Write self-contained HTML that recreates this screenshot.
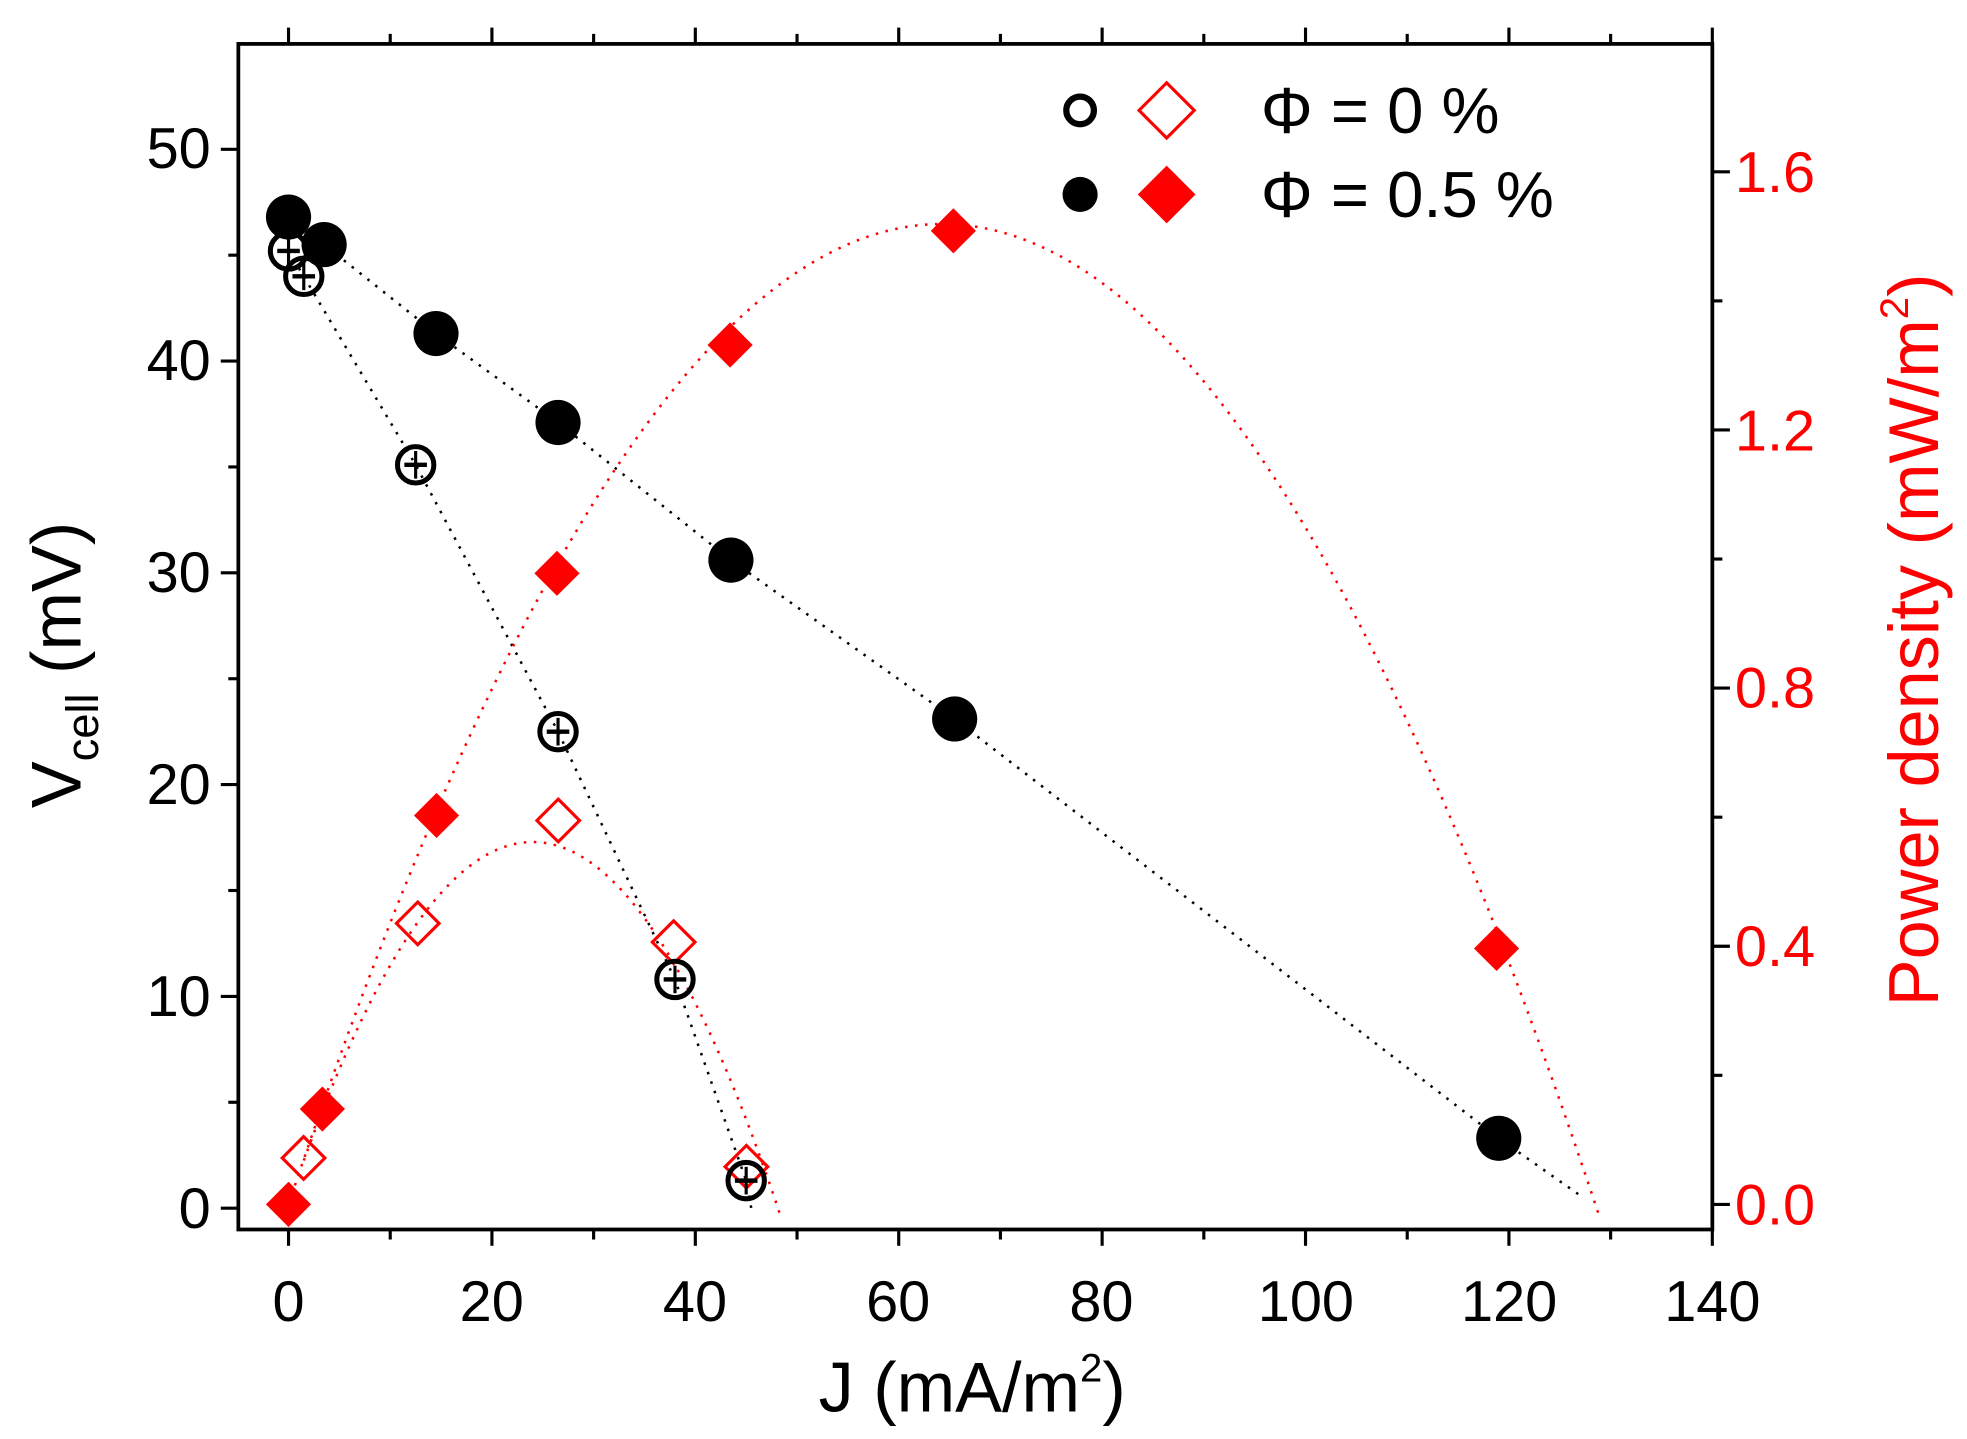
<!DOCTYPE html>
<html><head><meta charset="utf-8"><style>
html,body{margin:0;padding:0;background:#fff;}
svg{display:block;}
text{font-family:"Liberation Sans",sans-serif;}
</style></head><body>
<svg id="s" width="1967" height="1439" viewBox="0 0 1568 1147" preserveAspectRatio="none" xmlns="http://www.w3.org/2000/svg">
<rect x="0" y="0" width="1568" height="1147" fill="#fff"/>
<g id="ticks" stroke="#000" stroke-width="2.5"></g>
<rect x="190" y="35" width="1175" height="945" fill="none" stroke="#000" stroke-width="3"/>
<g id="lines"></g>
<g id="marks"></g>
<g font-size="46" text-anchor="end" fill="#000">
<text x="168" y="979">0</text><text x="168" y="810">10</text><text x="168" y="641">20</text>
<text x="168" y="472">30</text><text x="168" y="303">40</text><text x="168" y="134">50</text>
</g>
<g font-size="46" text-anchor="start" fill="#ff0000">
<text x="1383" y="976">0.0</text><text x="1383" y="770">0.4</text><text x="1383" y="564">0.8</text>
<text x="1383" y="359">1.2</text><text x="1383" y="153">1.6</text>
</g>
<g font-size="46" text-anchor="middle" fill="#000">
<text x="230" y="1053">0</text><text x="392" y="1053">20</text><text x="554" y="1053">40</text>
<text x="716" y="1053">60</text><text x="878" y="1053">80</text><text x="1041" y="1053">100</text>
<text x="1203" y="1053">120</text><text x="1365" y="1053">140</text>
</g>
<text x="775" y="1125" font-size="56" text-anchor="middle">J (mA/m<tspan font-size="32" dy="-24">2</tspan><tspan dy="24">)</tspan></text>
<text transform="translate(64,530) rotate(-90)" font-size="56" text-anchor="middle">V<tspan font-size="36" dy="14">cell</tspan><tspan dy="-14"> (mV)</tspan></text>
<text transform="translate(1545,510) rotate(-90)" font-size="56" text-anchor="middle" fill="#ff0000">Power density (mW/m<tspan font-size="32" dy="-24">2</tspan><tspan dy="24">)</tspan></text>
<circle cx="861" cy="88" r="11" fill="none" stroke="#000" stroke-width="5"/>
<path d="M930 66 L952 88 L930 110 L908 88 Z" fill="none" stroke="#f00" stroke-width="2.5"/>
<circle cx="861" cy="155" r="14" fill="#000"/>
<path d="M930 132 L953 155 L930 178 L907 155 Z" fill="#f00"/>
<text x="1005" y="106" font-size="52">Φ = 0 %</text>
<text x="1005" y="173" font-size="52">Φ = 0.5 %</text>
</svg>
<script>
const NS="http://www.w3.org/2000/svg";
const X=j=>230+j*8.107, YV=v=>963-v*16.88, YP=p=>960-p*514.4;
function el(p,tag,a){const e=document.createElementNS(NS,tag);for(const k in a)e.setAttribute(k,a[k]);p.appendChild(e);return e;}
const T=document.getElementById('ticks'),L=document.getElementById('lines'),M=document.getElementById('marks');
for(let j=0;j<=140;j+=10){const x=X(j),len=j%20==0?13:8;
 el(T,'line',{x1:x,y1:980,x2:x,y2:980+len});el(T,'line',{x1:x,y1:35,x2:x,y2:35-len});}
for(let v=0;v<=50;v+=5){const y=YV(v),len=v%10==0?14:8;el(T,'line',{x1:190,y1:y,x2:190-len,y2:y});}
for(let p=0;p<=1.6001;p+=0.2){const y=YP(p),len=Math.round(p*10)%4==0?14:8;el(T,'line',{x1:1365,y1:y,x2:1365+len,y2:y});}
const filledV=[[0,46.8],[3.5,45.5],[14.5,41.3],[26.5,37.1],[43.5,30.6],[65.5,23.1],[119,3.3],[127,0.6]];
const openV=[[0,45.2],[1.5,44],[12.5,35.1],[26.5,22.5],[38,10.8],[45,1.3],[45.5,0]];
el(L,'polyline',{points:filledV.map(d=>X(d[0])+','+YV(d[1])).join(' '),fill:'none',stroke:'#000','stroke-width':2,'stroke-dasharray':'2 6'});
el(L,'polyline',{points:openV.map(d=>X(d[0])+','+YV(d[1])).join(' '),fill:'none',stroke:'#000','stroke-width':2,'stroke-dasharray':'2 6'});
function curve(c,j0,jz,j1){let pts=[];for(let j=j0;j<=j1;j+=0.5){const y=YP(c*j*(jz-j));if(y>980)break;pts.push(X(j)+','+y);}return pts.join(' ');}
el(L,'polyline',{points:curve(3.68e-4,0,128.5,131),fill:'none',stroke:'#f00','stroke-width':2,'stroke-dasharray':'2 6'});
el(L,'polyline',{points:curve(9.75e-4,1.5,48,50),fill:'none',stroke:'#f00','stroke-width':2,'stroke-dasharray':'2 6'});
function dia(x,y,r,fill){el(M,'path',{d:`M${x} ${y-r} L${x+r} ${y} L${x} ${y+r} L${x-r} ${y} Z`,fill:fill?'#f00':'none',stroke:'#f00','stroke-width':fill?0:2.5});}
[[242,923],[333,736],[445,654],[537,751],[595,930]].forEach(d=>dia(d[0],d[1],17,false));
[[230,960],[257,884],[348,650],[444,457],[582,275],[760,184],[1193,756]].forEach(d=>dia(d[0],d[1],18,true));
openV.slice(0,6).forEach(d=>{const x=X(d[0]),y=YV(d[1]);
 el(M,'circle',{cx:x,cy:y,r:14.5,fill:'none',stroke:'#000','stroke-width':4});
 el(M,'line',{x1:x-9,y1:y,x2:x+9,y2:y,stroke:'#000','stroke-width':3.5});
 el(M,'line',{x1:x,y1:y-11,x2:x,y2:y+11,stroke:'#000','stroke-width':2.5});});
filledV.slice(0,7).forEach(d=>el(M,'circle',{cx:X(d[0]),cy:YV(d[1]),r:18,fill:'#000'}));
</script>
</body></html>
